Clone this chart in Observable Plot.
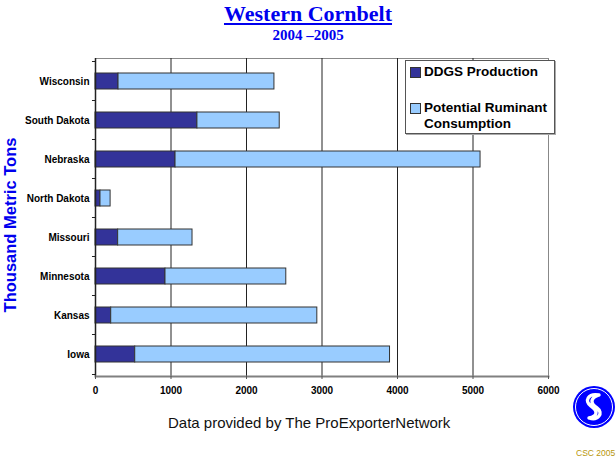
<!DOCTYPE html>
<html>
<head>
<meta charset="utf-8">
<script src="https://cdn.jsdelivr.net/npm/d3@7"></script>
<script src="https://cdn.jsdelivr.net/npm/@observablehq/plot@0.6"></script>
<style>
  html, body { margin: 0; padding: 0; background: #fff; }
  #wrap { position: relative; width: 616px; height: 461px; overflow: hidden; font-family: "Liberation Sans", Arial, sans-serif; }
  #chart { position: absolute; left: 0; top: 0; }
  .title { position: absolute; left: 0; width: 616px; text-align: center; color: #0000ee; font-family: "Liberation Serif", "Times New Roman", serif; font-weight: bold; }
  #t1 { top: 1px; font-size: 22px; text-decoration: underline; text-decoration-thickness: 2px; text-underline-offset: 2px; }
  #t2 { top: 27px; font-size: 15px; }
  #ylab { position: absolute; left: 10px; top: 225px; transform: translate(-50%, -50%) rotate(-90deg); white-space: nowrap; color: #0000ee; font-weight: bold; font-size: 16.5px; }
  #legend { position: absolute; left: 405px; top: 60px; width: 150px; height: 74px; box-sizing: border-box; background: #fff; border: 1px solid #555; box-shadow: 1px 1px 0 #aaa; font-weight: bold; font-size: 13.5px; color: #000; }
  .lrow { position: absolute; left: 4px; display: flex; align-items: flex-start; line-height: 16px; white-space: nowrap; }
  .sw { width: 9px; height: 9px; border: 1px solid #333; margin: 3px 3px 0 0; flex: none; }
  #caption { position: absolute; left: 168px; top: 414px; font-size: 15px; color: #111; white-space: nowrap; }
  #csc { position: absolute; left: 576px; top: 448px; font-size: 8.5px; color: #b8960a; white-space: nowrap; }
  #logo { position: absolute; left: 572px; top: 385px; }
</style>
</head>
<body>
<div id="wrap">
  <div id="chart"></div>
  <div class="title" id="t1">Western Cornbelt</div>
  <div class="title" id="t2">2004 –2005</div>
  <div id="ylab">Thousand Metric Tons</div>
  <div id="legend"></div>
  <div id="caption">Data provided by The ProExporterNetwork</div>
  <svg id="logo" width="44" height="44" viewBox="0 0 44 44">
    <circle cx="22" cy="22" r="21" fill="#0000ff"/>
    <circle cx="22" cy="22" r="18.5" fill="none" stroke="#fff" stroke-width="1"/>
    <path d="M27 10 C16 8 12 16 19 21 C25 25 27 31 17 33 M17 33 C26 36 32 28 25 23 C18 18 18 13 27 10" fill="none" stroke="#fff" stroke-width="3.4" stroke-linecap="round"/>
  </svg>
  <div id="csc">CSC 2005</div>
</div>
<script>
const states = ["Wisconsin", "South Dakota", "Nebraska", "North Dakota", "Missouri", "Minnesota", "Kansas", "Iowa"];
const ddgs = [305, 1350, 1060, 66, 300, 927, 208, 526];
const ruminant = [2065, 1090, 4040, 134, 985, 1600, 2730, 3375];
const series = ["DDGS Production", "Potential Ruminant Consumption"];
const seriesLabels = [["DDGS Production"], ["Potential Ruminant", "Consumption"]];
const colors = ["#333399", "#99ccff"];
const xTicks = [0, 1000, 2000, 3000, 4000, 5000, 6000];
const gridTicks = [1000, 2000, 3000, 4000, 5000];

const rows = [];
states.forEach((s, i) => rows.push({state: s, series: series[0], value: ddgs[i]}));
states.forEach((s, i) => rows.push({state: s, series: series[1], value: ruminant[i]}));

const plot = Plot.plot({
  width: 616,
  height: 461,
  marginLeft: 95,
  marginRight: 68,
  marginTop: 58,
  marginBottom: 85,
  style: {fontFamily: "'Liberation Sans', Arial, sans-serif", fontSize: "10px", fontWeight: "bold", color: "#000", background: "transparent"},
  x: {domain: [0, 6000], ticks: xTicks},
  y: {domain: states, paddingInner: 0.6, paddingOuter: 0.3},
  color: {domain: series, range: colors},
  marks: [
    Plot.frame({stroke: "#888", strokeWidth: 1}),
    Plot.ruleX(gridTicks, {stroke: "#222", strokeWidth: 1}),
    Plot.barX(rows, Plot.stackX({y: "state", x: "value", fill: "series", stroke: "#333", strokeWidth: 1})),
    Plot.ruleX([0], {stroke: "#222", strokeWidth: 1.5}),
    Plot.frame({anchor: "bottom", stroke: "#808080", strokeWidth: 2}),
    Plot.ruleY(states, {y: d => d, x1: -40, x2: 0, dy: -20, stroke: "#222"}),
    Plot.ruleY([states[states.length - 1]], {y: d => d, x1: -40, x2: 0, dy: 20, stroke: "#222"}),
    Plot.axisX({ticks: xTicks, tickSize: 3, tickPadding: 7, tickFormat: d => String(d), label: null, stroke: "#555"}),
    Plot.axisY({tickSize: 0, tickPadding: 6, label: null})
  ]
});
document.getElementById("chart").appendChild(plot);

const legend = document.getElementById("legend");
const tops = [3, 39];
series.forEach((s, i) => {
  const row = document.createElement("div");
  row.className = "lrow";
  row.style.top = tops[i] + "px";
  const sw = document.createElement("div");
  sw.className = "sw";
  sw.style.background = colors[i];
  const txt = document.createElement("div");
  txt.innerHTML = seriesLabels[i].join("<br>");
  row.appendChild(sw);
  row.appendChild(txt);
  legend.appendChild(row);
});
</script>
</body>
</html>
